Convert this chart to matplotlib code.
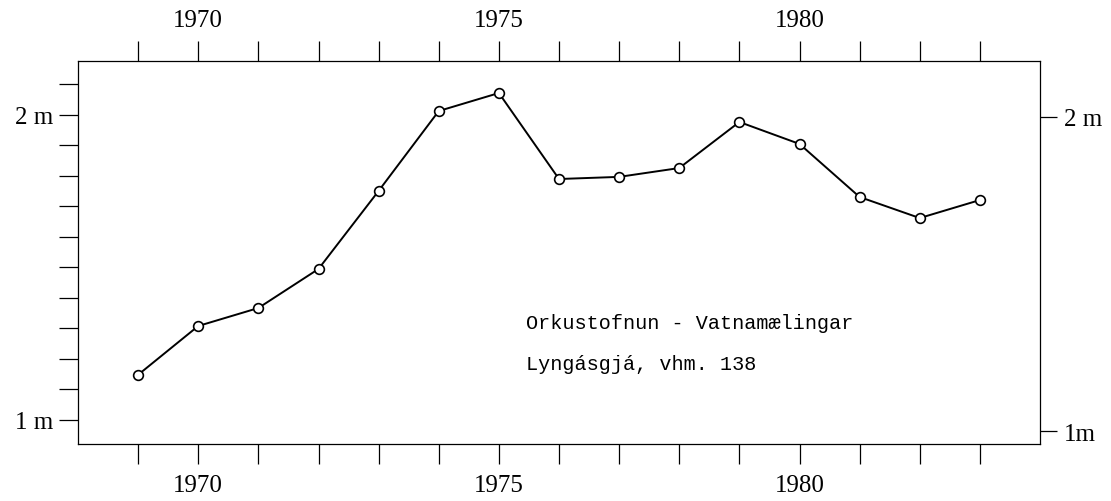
import matplotlib.pyplot as plt
from matplotlib.ticker import FixedLocator

# water level readings, Lyngásgjá (vhm. 138)
years = [1969, 1970, 1971, 1972, 1973, 1974, 1975, 1976,
         1977, 1978, 1979, 1980, 1981, 1982, 1983]
level = [1.148, 1.308, 1.367, 1.495, 1.751, 2.013, 2.072, 1.790,
         1.797, 1.826, 1.977, 1.905, 1.731, 1.662, 1.721]

year_labels = [1970, 1975, 1980]
left_ticks = [1, 2]
left_minor = [1.1, 1.2, 1.3, 1.4, 1.5, 1.6, 1.7, 1.8, 1.9, 2.1]
left_labels = ['1 m', '2 m']
right_labels = ['1m', '2 m']
note_lines = ['Orkustofnun - Vatnamælingar', 'Lyngásgjá, vhm. 138']

serif = 'Liberation Serif'
mono = 'Liberation Mono'
PX = 0.72  # points per pixel at 100 dpi

fig = plt.figure(figsize=(11.11, 5.02), dpi=100)
W, H = 1111, 502
left, right, top, bottom = 78, 1040, 62, 445
ax = fig.add_axes([left / W, 1 - bottom / H, (right - left) / W, (bottom - top) / H])

ax.plot(years, level, color='black', linewidth=1.4, marker='o',
        markersize=7, markerfacecolor='white', markeredgecolor='black',
        markeredgewidth=1.2, zorder=3)

ax.set_xlim(1968, 1984)
ax.set_ylim(0.921, 2.177)

for s in ax.spines.values():
    s.set_linewidth(0.9)

# x ticks on top and bottom, every year, labels every 5
ax.xaxis.set_major_locator(FixedLocator(year_labels))
ax.xaxis.set_minor_locator(FixedLocator([y for y in years if y not in year_labels]))
ax.set_xticklabels([str(y) for y in year_labels])
ax.tick_params(axis='x', which='both', direction='out', length=20 * PX, width=0.9,
               top=True, bottom=True, labeltop=True, labelbottom=True)
ax.tick_params(axis='x', which='major', pad=10 * PX, labelsize=18)
for lab in ax.get_xticklabels():
    lab.set_fontfamily(serif)

# left y axis: 1 m and 2 m, minor every 10 cm
ax.yaxis.set_major_locator(FixedLocator(left_ticks))
ax.yaxis.set_minor_locator(FixedLocator(left_minor))
ax.set_yticklabels(left_labels)
ax.tick_params(axis='y', which='both', direction='out', length=19 * PX, width=0.9,
               left=True, right=False)
ax.tick_params(axis='y', which='major', pad=6 * PX, labelsize=18)
for lab in ax.get_yticklabels():
    lab.set_fontfamily(serif)

# right y axis, scanned slightly different scale
ax2 = ax.twinx()
ax2.set_ylim(0.959, 2.178)
ax2.yaxis.set_major_locator(FixedLocator(left_ticks))
ax2.yaxis.set_minor_locator(FixedLocator([]))
ax2.set_yticklabels(right_labels)
ax2.tick_params(axis='y', which='major', direction='out', length=17 * PX, width=0.9,
                pad=7 * PX, labelsize=18)
for lab in ax2.get_yticklabels():
    lab.set_fontfamily(serif)
for s in ax2.spines.values():
    s.set_visible(False)

ax.text(1975.45, 1.32, note_lines[0], family=mono, fontsize=14.5, va='center')
ax.text(1975.45, 1.185, note_lines[1], family=mono, fontsize=14.5, va='center')

fig.savefig('out.png', dpi=100)
